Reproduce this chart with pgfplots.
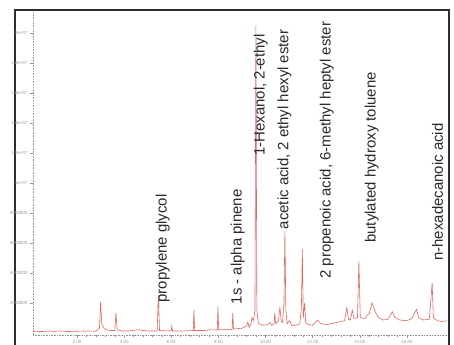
\documentclass[border=0pt]{standalone}
\usepackage{pgfplots}
\pgfplotsset{compat=1.18}
\usepackage{fontspec}
\setmainfont{Liberation Sans}
\definecolor{trace}{RGB}{222,105,95}
\definecolor{axgrey}{RGB}{150,150,150}
\definecolor{txt}{RGB}{40,40,40}
\definecolor{framec}{RGB}{45,45,50}
\pgfplotstableread{
t h
0.13 0.10
0.5 0.08
0.8 0.12
1.0 0.09
1.3 0.12
1.6 0.08
2.0 0.10
2.4 0.12
2.8 0.10
2.95 0.3
3.0 2.07
3.05 0.6
3.12 0.35
3.25 0.2
3.4 0.15
3.6 0.15
3.65 1.33
3.7 0.2
3.9 0.12
4.2 0.12
4.6 0.2
4.8 0.15
5.0 0.12
5.4 0.12
5.45 2.53
5.5 0.15
5.8 0.12
6.0 0.15
6.02 0.45
6.05 0.12
6.5 0.12
6.93 0.15
6.96 1.53
6.99 0.15
7.4 0.15
7.6 0.2
7.95 0.18
7.98 1.73
8.01 0.2
8.3 0.2
8.58 0.2
8.61 1.33
8.64 0.25
9.0 0.3
9.2 0.45
9.25 0.73
9.3 0.35
9.38 0.6
9.42 1.0
9.48 0.8
9.55 1.5
9.59 20.5
9.63 1.5
9.7 0.6
9.9 0.5
10.1 0.55
10.2 0.7
10.25 0.5
10.36 0.6
10.39 1.33
10.43 0.6
10.55 0.8
10.61 1.73
10.66 0.8
10.72 0.7
10.78 2.0
10.82 6.8
10.86 1.5
10.92 0.6
11.0 0.8
11.03 0.8
11.1 0.5
11.3 0.5
11.45 0.6
11.52 1.6
11.56 5.6
11.6 1.0
11.66 2.0
11.7 0.7
11.8 0.55
12.0 0.5
12.2 0.85
12.35 0.6
12.6 0.55
12.9 0.65
13.2 0.75
13.35 0.8
13.45 1.67
13.52 0.9
13.6 0.85
13.68 1.5
13.75 0.95
13.9 1.0
13.96 4.8
14.02 1.0
14.2 0.95
14.4 1.3
14.52 2.0
14.65 1.4
14.8 1.0
15.0 0.85
15.2 0.9
15.38 1.4
15.5 1.0
15.7 0.85
16.0 0.8
16.2 0.95
16.4 1.55
16.5 1.0
16.7 0.85
16.95 0.9
17.07 3.33
17.12 1.0
17.3 0.8
17.5 0.75
17.7 0.8
}\chrom
\begin{document}
\begin{tikzpicture}
% outer frame: three sides, drawn as a plot in its own axis
\begin{axis}[
  at={(15bp,0bp)}, anchor=south west,
  scale only axis, width=434bp, height=335bp,
  xmin=0, xmax=1, ymin=0, ymax=1,
  hide axis, clip=false,
]
\addplot[framec, line width=2.4bp, line join=miter] coordinates {(0,0) (0,1) (1,1) (1,0)};
\end{axis}
\begin{axis}[
  at={(33bp,10bp)}, anchor=south west,
  scale only axis, width=414bp, height=323bp,
  xmin=0.13, xmax=17.7, ymin=-0.15, ymax=21.4,
  axis lines*=left,
  axis line style={axgrey, densely dotted, line width=0.6bp},
  xtick={2,4,...,16},
  xticklabels={2.00,4.00,6.00,8.00,10.00,12.00,14.00,16.00},
  minor x tick num=4,
  ytick={2,4,...,20},
  yticklabels={2000000,4000000,6000000,8000000,1e+07,1.2e+07,1.4e+07,1.6e+07,1.8e+07,2e+07},
  tick label style={font=\fontsize{4.5}{5}\selectfont, text=axgrey},
  tick style={axgrey, line width=0.5bp},
  major tick length=3bp, minor tick length=2bp,
  tick align=outside,
  xticklabel style={yshift=1bp},
  yticklabel style={xshift=1bp},
]
\addplot[trace, line width=0.6bp] table[x=t,y=h] {\chrom};
\begin{scope}[every node/.style={rotate=90, anchor=west, inner sep=0pt, text=txt, font=\fontsize{15}{15}\selectfont}]
\node at (axis cs:5.64,2.0) {propylene glycol};
\node at (axis cs:8.82,1.9) {1s - alpha pinene};
\node at (axis cs:9.8,11.8) {1-Hexanol, 2-ethyl};
\node at (axis cs:10.8,6.9) {acetic acid, 2 ethyl hexyl ester};
\node at (axis cs:12.6,3.6) {2 propenoic acid, 6-methyl heptyl ester};
\node at (axis cs:14.51,6.0) {butylated hydroxy toluene};
\node at (axis cs:17.3,4.8) {n-hexadecanoic acid};
\end{scope}
\end{axis}
\pgfresetboundingbox
\path (0bp,0bp) rectangle (454bp,345bp);
\end{tikzpicture}
\end{document}
